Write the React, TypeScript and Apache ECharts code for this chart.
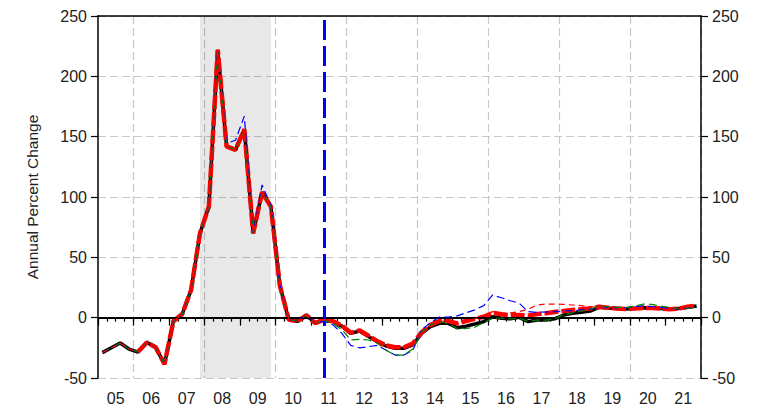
import React, { useEffect, useRef } from "react";
import * as echarts from "echarts";

// Year tick labels
const years = ["05","06","07","08","09","10","11","12","13","14","15","16","17","18","19","20","21"];
// Quarterly categories 2005Q1..2021Q4
const quarters: string[] = [];
for (let y = 2005; y <= 2021; y++) for (let q = 1; q <= 4; q++) quarters.push(`${y}Q${q}`);

// Shared history 2005Q1..2011Q1 (i=0..24)
const history = [
  -29, -25, -21, -26, -28.5, -20.5, -24.5, -38.5,
  -3, 3, 23, 70, 92, 222, 142, 139,
  156, 70, 104, 92, 27, -1.5, -3, 2,
  -4.5,
];
const historyBlue = [
  -29, -25, -21, -26, -28.5, -20.5, -24.5, -38.5,
  -3, 3, 23, 70, 92, 222, 144.5, 147,
  167, 70, 110, 93, 27, -1.5, -3, 2,
  -4.5,
];

// 2011Q2..2021Q4 (i=25..67)
const blackTail = [
  -1.5, -3.3, -7, -13, -11, -15.7, -20, -23.5, -25.4, -25.4, -22.6,
  -13, -7.5, -4.7, -4.7, -8.3, -7, -5.2, -3.3, 0.8, -0.5, -1, 0.3,
  -3.3, -2, -2, -1, 2.2, 3.6, 4.4, 5.5, 8.6, 8, 7.5, 7.2, 7.5, 8.3,
  8, 7.5, 7, 7.5, 8.6, 9.7,
];
const redThickTail = [
  -1.5, -3, -6.5, -12.5, -10.5, -15, -19.5, -23, -24.5, -24.5, -21.5,
  -12, -6, -2.8, -2.8, -4.7, -2.8, -1, 0.8, 4, 2.8, 1.7, 2.2,
  1.7, 3, 3.6, 4.7, 5.5, 6.4, 7, 7.5, 9, 8.3, 7.5, 7.2, 7.5, 8,
  8, 7.5, 7, 7.5, 9, 10,
];
const blueTail = [
  -3, -6, -13, -23, -25, -24, -23, -27, -31, -31, -27,
  -10, -4, 0.5, 0.5, 1.5, 4, 6.5, 10, 18.8, 16.5, 14, 12,
  5, 4.4, 4.7, 5, 5.5, 5.8, 6.4, 7, 8.6, 8.3, 8, 8.3, 9.2, 9.7,
  9, 8.3, 7.5, 7, 7.8, 8.6,
];
const greenTail = [
  -2, -4.7, -10, -18.5, -18, -18.5, -21, -27, -31, -31, -26,
  -11.6, -6, -3.3, -5, -8.8, -9, -8, -4, -0.5, -0.5, -1, -0.5,
  -3, -2, -2, -1, 2.5, 4, 5.5, 7, 9.7, 9, 8.6, 8.3, 9.5, 11.3,
  11, 9.5, 8.3, 7.5, 7.8, 8.6,
];
const redThinTail = [
  -1.5, -3, -6.5, -12.5, -10.5, -15, -19.5, -23, -24.5, -24.5, -21.5,
  -12, -6, -2.8, -2.8, -4.7, -2.8, -1, 1.5, 5, 3.5, 4, 5,
  7, 10.5, 11.3, 11.3, 11, 10.5, 10, 9, 9, 8.3, 7.5, 7.2, 7.5, 8,
  8, 7.5, 7, 7.5, 9, 10,
];

const blackData = [...history, ...blackTail];
const redThickData: (number | null)[] = [...history.map((v, i) => (i < 4 ? null : v)), ...redThickTail];
const blueData = [...historyBlue, ...blueTail];
const greenData = [...history, ...greenTail];
const redThinData = [...history, ...redThinTail];

const NUM_FONT = "'Liberation Sans Narrow', 'Arial Narrow', 'Liberation Sans', sans-serif";

export default function App() {
  const ref = useRef<HTMLDivElement>(null);
  useEffect(() => {
    if (!ref.current) return;
    const chart = echarts.init(ref.current, undefined, { renderer: "svg" });
    const gridDash = { type: [8, 4] as any, color: "#c8c8c8", width: 1.2 };
    const yCommon = {
      type: "value" as const,
      min: -50,
      max: 250,
      interval: 50,
      axisLine: { show: true, onZero: false, lineStyle: { color: "#000", width: 1.5 } },
      axisTick: { show: true, length: 7, lineStyle: { color: "#000", width: 1.2 } },
      axisLabel: { fontSize: 16, color: "#222", fontFamily: NUM_FONT, margin: 11 },
    };
    chart.setOption({
      animation: false,
      grid: { left: 98, right: 56, top: 16, bottom: 32, containLabel: false },
      xAxis: [
        {
          type: "category",
          data: quarters,
          boundaryGap: true,
          position: "bottom",
          axisLine: { show: true, lineStyle: { color: "#000", width: 1.5 } },
          axisTick: { show: true, interval: 0, length: 4, lineStyle: { color: "#000", width: 1.2 } },
          axisLabel: { show: false },
          splitLine: { show: false },
        },
        {
          type: "category",
          data: years,
          boundaryGap: true,
          position: "bottom",
          axisLine: { show: false },
          axisTick: { show: true, interval: 0, length: 8, lineStyle: { color: "#000", width: 1.2 } },
          axisLabel: { show: true, interval: 0, fontSize: 16, color: "#222", fontFamily: NUM_FONT, margin: 12 },
          splitLine: { show: true, interval: (i: number) => i % 2 === 1, lineStyle: gridDash },
        },
        {
          type: "category",
          data: years,
          position: "top",
          axisLine: { show: true, lineStyle: { color: "#000", width: 1.5 } },
          axisTick: { show: false },
          axisLabel: { show: false },
        },
      ],
      yAxis: [
        {
          ...yCommon,
          position: "left",
          name: "Annual Percent Change",
          nameLocation: "middle",
          nameGap: 58,
          nameTextStyle: { fontSize: 15.5, color: "#222", fontFamily: NUM_FONT },
          splitLine: { show: true, lineStyle: gridDash },
        },
        { ...yCommon, position: "right", splitLine: { show: false } },
      ],
      series: [
        {
          type: "line",
          name: "shade",
          data: [],
          xAxisIndex: 0,
          markArea: {
            silent: true,
            itemStyle: { color: "rgba(0,0,0,0.09)" },
            data: [[{ xAxis: "2007Q4" }, { xAxis: "2009Q4" }]],
          },
          markLine: {
            silent: true,
            symbol: "none",
            label: { show: false },
            data: [
              { yAxis: 0, lineStyle: { color: "#000", width: 2, type: "solid" } },
              { xAxis: "2011Q2", lineStyle: { color: "#0000ff", width: 3, type: [20, 6] } },
            ],
          },
        },
        {
          type: "line",
          name: "Actual",
          data: blackData,
          xAxisIndex: 0,
          showSymbol: false,
          lineStyle: { color: "#000", width: 3.5 },
          z: 3,
        },
        {
          type: "line",
          name: "Forecast",
          data: redThickData,
          xAxisIndex: 0,
          showSymbol: false,
          lineStyle: { color: "#ff0000", width: 4.5, type: [14, 3] },
          z: 4,
        },
        {
          type: "line",
          name: "Blue",
          data: blueData,
          xAxisIndex: 0,
          showSymbol: false,
          lineStyle: { color: "#0000ff", width: 1.2, type: [8, 4] },
          z: 5,
        },
        {
          type: "line",
          name: "Green",
          data: greenData,
          xAxisIndex: 0,
          showSymbol: false,
          lineStyle: { color: "#008000", width: 1.2, type: [8, 4] },
          z: 5,
        },
        {
          type: "line",
          name: "RedThin",
          data: redThinData,
          xAxisIndex: 0,
          showSymbol: false,
          lineStyle: { color: "#ff0000", width: 1.2, type: [6, 4] },
          z: 5,
        },
      ],
    });
    return () => chart.dispose();
  }, []);
  return <div ref={ref} style={{ width: 757, height: 410, position: "absolute", left: 0, top: 0 }} />;
}
